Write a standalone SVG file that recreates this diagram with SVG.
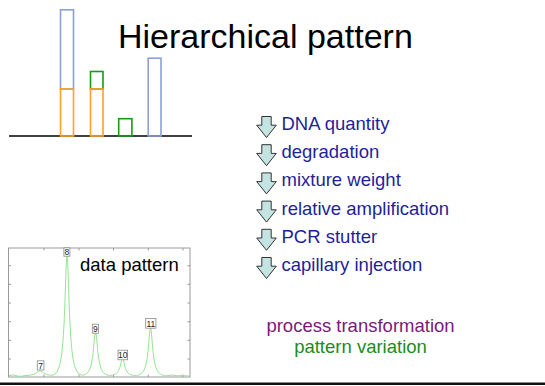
<svg xmlns="http://www.w3.org/2000/svg" width="545" height="386" viewBox="0 0 545 386">
  <style>
    .sans { font-family: "Liberation Sans", Arial, sans-serif; }
    .bar { fill: none; stroke-width: 1.6; }
    .blue { stroke: #8b9fdc; }
    .orange { stroke: #ffa126; }
    .green { stroke: #1a9a1a; }
    .frame { fill: none; stroke: #9a9a9a; stroke-width: 1; }
    .tick { stroke: #9a9a9a; stroke-width: 1; }
    .trace { fill: none; stroke: #93e593; stroke-width: 1; stroke-linejoin: round; }
    .peak-box { fill: #ffffff; stroke: #8a8a8a; stroke-width: 0.8; }
    .peak-num { font-size: 8.5px; fill: #222222; text-anchor: middle; }
    .factor { font-size: 18.5px; fill: #1f1f99; }
    .down-arrow { fill: #c4e4e4; stroke: #333333; stroke-width: 1; stroke-linejoin: miter; }
  </style>
  <defs>
    <!-- block arrow pointing down; origin at top centre of the shaft -->
    <path id="arrow-shape" d="M-4.7,0 H4.7 V8.7 H9.8 L0,21 L-9.8,8.7 H-4.7 Z"/>
  </defs>

  <rect x="0" y="0" width="545" height="386" fill="#ffffff"/>

  <!-- title -->
  <g id="title">
    <text class="sans" x="118" y="48" font-size="34" fill="#000000">Hierarchical pattern</text>
  </g>

  <!-- stacked bars on a common baseline -->
  <g id="bar-stack">
    <line x1="9" y1="136" x2="192" y2="136" stroke="#000000" stroke-width="1.4"/>
    <g id="bar-1">
      <rect class="bar blue" x="60.5" y="9.8" width="13" height="79.2"/>
      <rect class="bar orange" x="60.5" y="89" width="13" height="47"/>
    </g>
    <g id="bar-2">
      <rect class="bar green" x="90.5" y="71.5" width="12.5" height="17.5"/>
      <rect class="bar orange" x="90.5" y="89" width="12.5" height="47"/>
    </g>
    <g id="bar-3">
      <rect class="bar green" x="118.7" y="118.7" width="13.2" height="17.3"/>
    </g>
    <g id="bar-4">
      <rect class="bar blue" x="148.2" y="58.2" width="12.8" height="77.8"/>
    </g>
  </g>

  <!-- electropherogram trace -->
  <g id="trace-plot">
    <rect class="frame" x="8.5" y="248" width="181.5" height="129"/>
    <g id="axis-ticks">
      <path class="tick" d="M8.5,359 h2.5 M8.5,340.3 h2.5 M8.5,321.7 h2.5 M8.5,303 h2.5 M8.5,284.3 h2.5 M8.5,265.7 h2.5"/>
      <path class="tick" d="M190,359 h-2.5 M190,340.3 h-2.5 M190,321.7 h-2.5 M190,303 h-2.5 M190,284.3 h-2.5 M190,265.7 h-2.5"/>
      <path class="tick" d="M44,248 v2.5 M79,248 v2.5 M113.5,248 v2.5 M148.3,248 v2.5 M183,248 v2.5"/>
      <path class="tick" d="M44,377 v-2.5 M79,377 v-2.5 M113.5,377 v-2.5 M148.3,377 v-2.5 M183,377 v-2.5"/>
    </g>
    <polyline class="trace" points="9,375.8 11,375.2 13,374.9 15,375.3 18,376.2 22,376.3 24,375.7 27,375.5 30.4,375.1 33.6,374.4 35.2,373.7 36.8,372.7 38.4,371.5 40,370.8 41.6,371.5 43.2,372.7 44.8,373.7 46.4,374.4 49.6,375.1 52,375.2 53,375.1 55,374 57,371.5 59,367.3 60,363.6 61,358.7 62,351.4 63,340.4 64,324.6 64.5,313.6 65,300.2 65.5,284.3 66,269.7 66.5,258.7 67,253.8 67.5,258.7 68,269.7 68.5,284.3 69,300.2 69.5,313.6 70,324.6 71,340.4 72,351.4 73,358.7 74,363.6 75,367.3 77,371.5 79,374 81,375 83.5,375.1 85.5,374.3 87.5,372.7 88.5,371.4 89.5,369.6 90.5,367 91.5,363 92.5,357.3 93,353.4 93.5,348.5 94,342.8 94.5,337.5 95,333.6 95.5,331.8 96,333.6 96.5,337.5 97,342.8 97.5,348.5 98,353.4 98.5,357.3 99.5,363 100.5,367 101.5,369.6 102.5,371.4 103.5,372.7 105.5,374.3 107.5,375.1 109.5,375.4 112.5,375.2 114.5,374.6 115.5,374.1 116.5,373.4 117.5,372.3 118.5,370.7 119.5,368.5 120,366.9 120.5,365 121,362.7 121.5,360.6 122,359 122.5,358.3 123,359 123.5,360.6 124,362.7 124.5,365 125,366.9 125.5,368.5 126.5,370.7 127.5,372.3 128.5,373.4 129.5,374.1 130.5,374.6 132.5,375.2 134.5,375.5 136.5,375.4 138.5,375.1 140.5,374.1 142.5,372.4 143.5,371 144.5,369.1 145.5,366.2 146.5,361.9 147.5,355.6 148,351.3 148.5,346 149,339.8 149.5,334 150,329.7 150.5,327.8 151,329.7 151.5,334 152,339.8 152.5,346 153,351.3 153.5,355.6 154.5,361.9 155.5,366.2 156.5,369.1 157.5,371 158.5,372.4 160.5,374.1 162.5,375.1 164.5,375.6 167,375.8 170,375.3 172,375 174,375.4 178,375.8 181,375.5 184,375.8 189,375.9"/>
    <g id="peak-7">
      <rect class="peak-box" x="37.3" y="360.8" width="6.6" height="9.2"/>
      <text class="sans peak-num" x="40.6" y="368.7">7</text>
    </g>
    <g id="peak-8">
      <rect class="peak-box" x="63.9" y="247.8" width="6" height="8.4"/>
      <text class="sans peak-num" x="66.9" y="255.2">8</text>
    </g>
    <g id="peak-9">
      <rect class="peak-box" x="92.3" y="324.2" width="6.2" height="9"/>
      <text class="sans peak-num" x="95.4" y="332">9</text>
    </g>
    <g id="peak-10">
      <rect class="peak-box" x="118" y="350.2" width="9.6" height="9.6"/>
      <text class="sans peak-num" x="122.8" y="358.4">10</text>
    </g>
    <g id="peak-11">
      <rect class="peak-box" x="145.7" y="318.4" width="10.2" height="9.8"/>
      <text class="sans peak-num" x="150.8" y="326.7">11</text>
    </g>
    <text class="sans" x="80" y="271" font-size="18.5" fill="#000000">data pattern</text>
  </g>

  <!-- list of process factors -->
  <g id="factors">
    <g id="factor-dna-quantity">
      <use href="#arrow-shape" class="down-arrow" x="266.5" y="116.5"/>
      <text class="sans factor" x="281.5" y="130">DNA quantity</text>
    </g>
    <g id="factor-degradation">
      <use href="#arrow-shape" class="down-arrow" x="266.5" y="144.7"/>
      <text class="sans factor" x="281.5" y="158.2">degradation</text>
    </g>
    <g id="factor-mixture-weight">
      <use href="#arrow-shape" class="down-arrow" x="266.5" y="172.9"/>
      <text class="sans factor" x="281.5" y="186.4">mixture weight</text>
    </g>
    <g id="factor-relative-amplification">
      <use href="#arrow-shape" class="down-arrow" x="266.5" y="201.1"/>
      <text class="sans factor" x="281.5" y="214.6">relative amplification</text>
    </g>
    <g id="factor-pcr-stutter">
      <use href="#arrow-shape" class="down-arrow" x="266.5" y="229.3"/>
      <text class="sans factor" x="281.5" y="242.8">PCR stutter</text>
    </g>
    <g id="factor-capillary-injection">
      <use href="#arrow-shape" class="down-arrow" x="266.5" y="257.5"/>
      <text class="sans factor" x="281.5" y="271">capillary injection</text>
    </g>
  </g>

  <!-- caption -->
  <g id="caption">
    <text class="sans" x="360.5" y="331.7" font-size="18.5" fill="#7a1a7a" text-anchor="middle">process transformation</text>
    <text class="sans" x="360.5" y="353" font-size="18.5" fill="#1a8c1a" text-anchor="middle">pattern variation</text>
  </g>

  <!-- bottom rule -->
  <rect x="0" y="382.5" width="545" height="2.5" fill="#111111"/>
</svg>
